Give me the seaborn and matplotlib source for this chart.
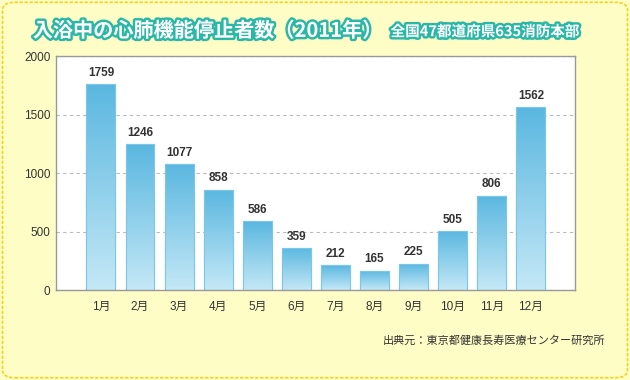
import matplotlib
matplotlib.use("Agg")
import matplotlib.pyplot as plt
import matplotlib.patheffects as pe
import numpy as np
import pandas as pd
import seaborn as sns
from matplotlib.patches import FancyBboxPatch
from matplotlib.colors import LinearSegmentedColormap

months = ["1月", "2月", "3月", "4月", "5月", "6月", "7月", "8月", "9月", "10月", "11月", "12月"]
counts = [1759, 1246, 1077, 858, 586, 359, 212, 165, 225, 505, 806, 1562]
title = "入浴中の心肺機能停止者数（2011年）"
subtitle = "全国47都道府県635消防本部"
source = "出典元：東京都健康長寿医療センター研究所"

sns.set_theme(style="white")
plt.rcParams["font.family"] = ["Liberation Sans", "Noto Sans CJK JP", "DejaVu Sans"]
cjk = ["Noto Sans CJK JP", "DejaVu Sans"]

df = pd.DataFrame({"month": months, "count": counts})

fig = plt.figure(figsize=(6.3, 3.8), dpi=100)
fig.patch.set_facecolor("#FFFDC6")

# rounded dashed frame behind everything
frame = FancyBboxPatch((0.004, 0.006), 0.992, 0.988, boxstyle="round,pad=0,rounding_size=0.02",
                       transform=fig.transFigure, facecolor="#FFFDC6", edgecolor="#F6D21E",
                       linewidth=1.2, linestyle=(0, (2, 1)), zorder=-10)
fig.patches.append(frame)

ax = fig.add_axes([0.0889, 0.2368, 0.8238, 0.6158])
ax.set_zorder(2)
ax.set_facecolor("white")

sns.barplot(data=df, x="month", y="count", ax=ax, color="#5BB8E0", width=0.74,
            edgecolor="#7CC6EA", linewidth=0.8, zorder=3)

# vertical gradient fill clipped to each bar
grad = LinearSegmentedColormap.from_list("bar", ["#C4E8F6", "#5AB7E0"])
for patch in list(ax.patches):
    x0, y0 = patch.get_x(), patch.get_y()
    w, h = patch.get_width(), patch.get_height()
    img = ax.imshow(np.linspace(0, 1, 256).reshape(-1, 1), cmap=grad, origin="lower",
                    extent=[x0, x0 + w, y0, y0 + h], aspect="auto", zorder=3.5)
    img.set_clip_path(patch)
    # keep the light-blue outline on top of the gradient
    ax.add_patch(plt.Rectangle((x0, y0), w, h, fill=False, edgecolor="#7CC6EA",
                               linewidth=0.8, zorder=4))

for i, v in enumerate(counts):
    ax.text(i, v + 45, str(v), ha="center", va="bottom", fontsize=8.5,
            fontweight="bold", color="#333333", zorder=5)

ax.set_xlim(-1.15, 12.13)
ax.set_ylim(0, 2000)
ax.set_yticks([0, 500, 1000, 1500, 2000])
ax.yaxis.grid(True, linestyle=(0, (3, 3)), color="#BBBBBB", linewidth=0.8, zorder=1)
ax.set_axisbelow(True)
for s in ax.spines.values():
    s.set_visible(True)
    s.set_color("#999999")
    s.set_linewidth(1.0)
    s.set_zorder(6)
ax.tick_params(axis="x", length=0, pad=8, labelsize=8.5, labelcolor="#333333")
ax.tick_params(axis="y", length=0, pad=4, labelsize=8.5, labelcolor="#333333")
ax.set_xlabel("")
ax.set_ylabel("")

outline = [pe.withStroke(linewidth=3.5, foreground="#2BB7A8")]
fig.text(0.052, 0.92, title, fontsize=14.5, fontweight="bold", color="white",
         va="center", ha="left", path_effects=outline, family=cjk)
fig.text(0.62, 0.918, subtitle, fontsize=10.5, fontweight="bold", color="white",
         va="center", ha="left", path_effects=outline, family=cjk)
fig.text(0.96, 0.105, source, fontsize=8, color="#333333", ha="right", va="center",
         family=cjk)

fig.savefig("out.png", dpi=100, facecolor=fig.get_facecolor())
